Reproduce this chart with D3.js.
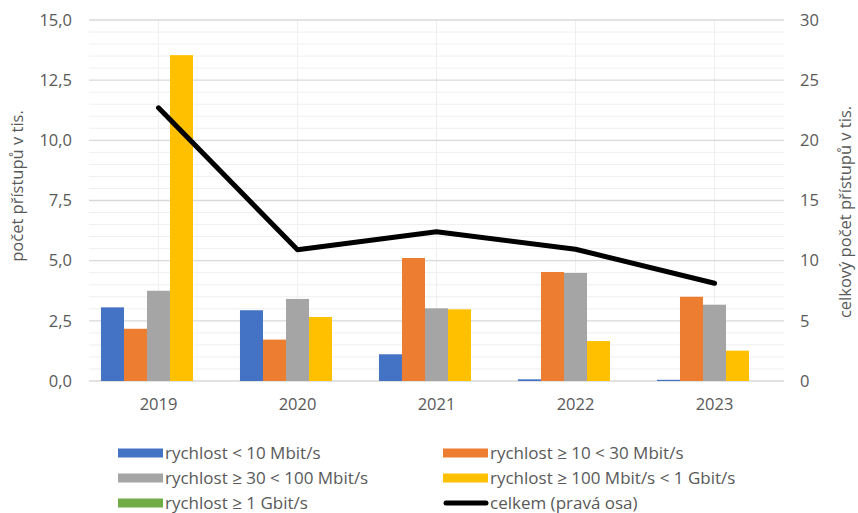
<!DOCTYPE html>
<html><head><meta charset="utf-8">
<script src="https://cdn.jsdelivr.net/npm/d3@7"></script>
<style>body{margin:0;background:#fff}svg{display:block;font-family:"Open Sans",sans-serif}</style>
</head><body><svg id="c" width="858" height="513"></svg>
<script>
const years = ["2019","2020","2021","2022","2023"];
const seriesNames = ["rychlost < 10 Mbit/s","rychlost ≥ 10 < 30 Mbit/s","rychlost ≥ 30 < 100 Mbit/s","rychlost ≥ 100 Mbit/s < 1 Gbit/s","rychlost ≥ 1 Gbit/s"];
const seriesColors = ["#4472C4","#ED7D31","#A5A5A5","#FFC000","#70AD47"];
const sLt10 = [3.06, 2.94, 1.11, 0.07, 0.05];
const s10to30 = [2.17, 1.72, 5.11, 4.53, 3.50];
const s30to100 = [3.75, 3.41, 3.02, 4.49, 3.17];
const s100to1G = [13.54, 2.66, 2.98, 1.66, 1.26];
const sGe1G = [0, 0, 0, 0, 0];
const total = [22.7, 10.9, 12.4, 10.95, 8.12];
const totalName = "celkem (pravá osa)";
const leftTicks = [0, 2.5, 5, 7.5, 10, 12.5, 15];
const rightTicks = [0, 5, 10, 15, 20, 25, 30];
const leftTitle = "počet přístupů v tis.";
const rightTitle = "celkový počet přístupů v tis.";

const series = [sLt10, s10to30, s30to100, s100to1G, sGe1G];
const svg = d3.select("#c");
const L = 89, R = 784, T = 20, B = 381;
const textCol = "#595959";
const fs = "16.5px";
const fsLeg = "17px";
const fsTitle = "16.5px";

const x = d3.scaleBand().domain(years).range([L, R]).paddingInner(0).paddingOuter(0);
const xi = d3.scaleBand().domain(d3.range(5)).range([0, x.bandwidth()]).paddingInner(0).paddingOuter(0.52);
const yL = d3.scaleLinear().domain([0, 15]).range([B, T]);
const yR = d3.scaleLinear().domain([0, 30]).range([B, T]);

// minor gridlines
const minor = d3.range(0.5, 15.01, 0.5).filter(v => Math.abs(v / 2.5 - Math.round(v / 2.5)) > 1e-6);
svg.append("g").selectAll("line").data(minor).join("line")
  .attr("x1", L).attr("x2", R).attr("y1", d => yL(d)).attr("y2", d => yL(d))
  .attr("stroke", "#efefef").attr("stroke-width", 1);
// vertical gridlines at category centers
svg.append("g").selectAll("line").data(years).join("line")
  .attr("x1", d => x(d) + x.bandwidth() / 2).attr("x2", d => x(d) + x.bandwidth() / 2)
  .attr("y1", T).attr("y2", B)
  .attr("stroke", "#efefef").attr("stroke-width", 1);
// major gridlines
svg.append("g").selectAll("line").data(leftTicks).join("line")
  .attr("x1", L).attr("x2", R).attr("y1", d => yL(d)).attr("y2", d => yL(d))
  .attr("stroke", "#d9d9d9").attr("stroke-width", 1.3);

// bars
series.forEach((vals, si) => {
  svg.append("g").selectAll("rect").data(years).join("rect")
    .attr("x", (d) => x(d) + xi(si))
    .attr("width", xi.bandwidth())
    .attr("y", (d, i) => yL(vals[i]))
    .attr("height", (d, i) => yL(0) - yL(vals[i]))
    .attr("fill", seriesColors[si]);
});

// line
const line = d3.line().x((d, i) => x(years[i]) + x.bandwidth() / 2).y(d => yR(d));
svg.append("path").datum(total).attr("d", line)
  .attr("fill", "none").attr("stroke", "#000").attr("stroke-width", 5)
  .attr("stroke-linejoin", "round").attr("stroke-linecap", "round");

// axes
const fmtL = d => d3.format(".1f")(d).replace(".", ",");
const gL = svg.append("g").attr("transform", `translate(${L},0)`)
  .call(d3.axisLeft(yL).tickValues(leftTicks).tickFormat(fmtL).tickSize(0).tickPadding(17));
const gR = svg.append("g").attr("transform", `translate(${R},0)`)
  .call(d3.axisRight(yR).tickValues(rightTicks).tickFormat(d3.format("d")).tickSize(0).tickPadding(16));
const gX = svg.append("g").attr("transform", `translate(0,${B})`)
  .call(d3.axisBottom(x).tickSize(0).tickPadding(17));
[gL, gR, gX].forEach(g => {
  g.select(".domain").remove();
  g.selectAll("text").attr("fill", textCol).style("font-size", fs).style("font-family", '"Open Sans",sans-serif');
});

// axis titles
svg.append("text").attr("transform", `translate(23,186) rotate(-90)`)
  .attr("text-anchor", "middle").attr("fill", textCol).style("font-size", fsTitle).text(leftTitle);
svg.append("text").attr("transform", `translate(851,212) rotate(-90)`)
  .attr("text-anchor", "middle").attr("fill", textCol).style("font-size", fsTitle).text(rightTitle);

// legend
const legItems = [
  {name: seriesNames[0], color: seriesColors[0], col: 0, row: 0},
  {name: seriesNames[1], color: seriesColors[1], col: 1, row: 0},
  {name: seriesNames[2], color: seriesColors[2], col: 0, row: 1},
  {name: seriesNames[3], color: seriesColors[3], col: 1, row: 1},
  {name: seriesNames[4], color: seriesColors[4], col: 0, row: 2},
  {name: totalName, color: "#000", col: 1, row: 2, isLine: true}
];
const colX = [118, 443], rowY = [453, 478, 503];
const lg = svg.append("g").selectAll("g").data(legItems).join("g")
  .attr("transform", d => `translate(${colX[d.col]},${rowY[d.row]})`);
lg.each(function(d) {
  const g = d3.select(this);
  if (d.isLine) {
    g.append("line").attr("x1", 3).attr("x2", 43).attr("y1", 0).attr("y2", 0)
      .attr("stroke", "#000").attr("stroke-width", 5).attr("stroke-linecap", "round");
  } else {
    g.append("rect").attr("x", 0).attr("y", -4.5).attr("width", 45).attr("height", 9).attr("fill", d.color);
  }
  g.append("text").attr("x", 47).attr("y", 0).attr("dy", "0.35em")
    .attr("fill", textCol).style("font-size", fsLeg).text(d.name);
});
</script></body></html>
